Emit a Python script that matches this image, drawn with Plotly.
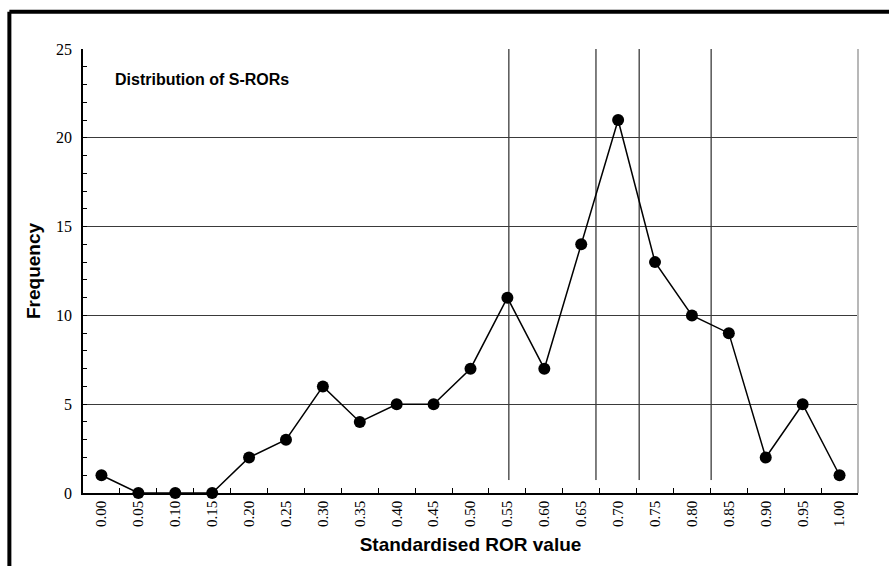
import plotly.graph_objects as go

categories = ["0.00", "0.05", "0.10", "0.15", "0.20", "0.25", "0.30", "0.35", "0.40", "0.45",
              "0.50", "0.55", "0.60", "0.65", "0.70", "0.75", "0.80", "0.85", "0.90", "0.95", "1.00"]
frequency = [1, 0, 0, 0, 2, 3, 6, 4, 5, 5, 7, 11, 7, 14, 21, 13, 10, 9, 2, 5, 1]
# reference lines, in category-index units
ref_lines = [11.04, 13.4, 14.57, 16.52]
y_ticks = [0, 5, 10, 15, 20, 25]

fig = go.Figure()
fig.add_trace(go.Scatter(
    x=categories, y=frequency, mode="lines+markers",
    line=dict(color="black", width=1.5),
    marker=dict(color="black", size=12),
    showlegend=False, cliponaxis=False,
))

for xv in ref_lines:
    fig.add_shape(type="line", xref="x", yref="y", x0=xv, x1=xv, y0=0.73, y1=25,
                  line=dict(color="black", width=1), layer="below")

# right border of plot area
fig.add_shape(type="line", xref="paper", yref="paper", x0=1, x1=1, y0=0, y1=1,
              line=dict(color="#b8b8b8", width=2))
# outer frame (top and left)
fig.add_shape(type="line", xref="paper", yref="paper", x0=-0.095, x1=1.05, y0=1.084, y1=1.084,
              line=dict(color="black", width=4))
fig.add_shape(type="line", xref="paper", yref="paper", x0=-0.095, x1=-0.095, y0=-0.2, y1=1.084,
              line=dict(color="black", width=4))

fig.add_annotation(text="<b>Distribution of S-RORs</b>", xref="paper", yref="paper",
                   x=0.039, y=0.932, xanchor="left", yanchor="middle", showarrow=False,
                   font=dict(family="Liberation Sans", size=16, color="black"))

fig.update_layout(
    width=889, height=566,
    margin=dict(l=83, r=31, t=49, b=73),
    paper_bgcolor="white", plot_bgcolor="white",
    font=dict(family="Liberation Serif", color="black"),
    xaxis=dict(
        type="category", tickson="boundaries", ticks="inside", ticklen=5,
        tickcolor="black", tickwidth=1, showgrid=False,
        showline=True, linecolor="black", linewidth=1.5,
        tickangle=-90, tickfont=dict(family="Liberation Serif", size=15, color="black"),
        range=[-0.5, 20.5],
        title=dict(text="<b>Standardised ROR value</b>", standoff=12,
                   font=dict(family="Liberation Sans", size=19, color="black")),
    ),
    yaxis=dict(
        range=[0, 25], tickvals=y_ticks, ticks="inside", ticklen=4, tickcolor="black",
        showgrid=True, gridcolor="#3a3a3a", gridwidth=1, zeroline=False,
        showline=True, linecolor="black", linewidth=1.5,
        tickfont=dict(family="Liberation Serif", size=16, color="black"),
        ticklabelstandoff=6,
        minor=dict(dtick=1, ticks="inside", ticklen=4, tickcolor="black", showgrid=False),
        title=dict(text="<b>Frequency</b>", standoff=10,
                   font=dict(family="Liberation Sans", size=19, color="black")),
    ),
)

fig.write_html("out.html", config={"displayModeBar": False},
               post_script="document.body.style.margin='0';")
